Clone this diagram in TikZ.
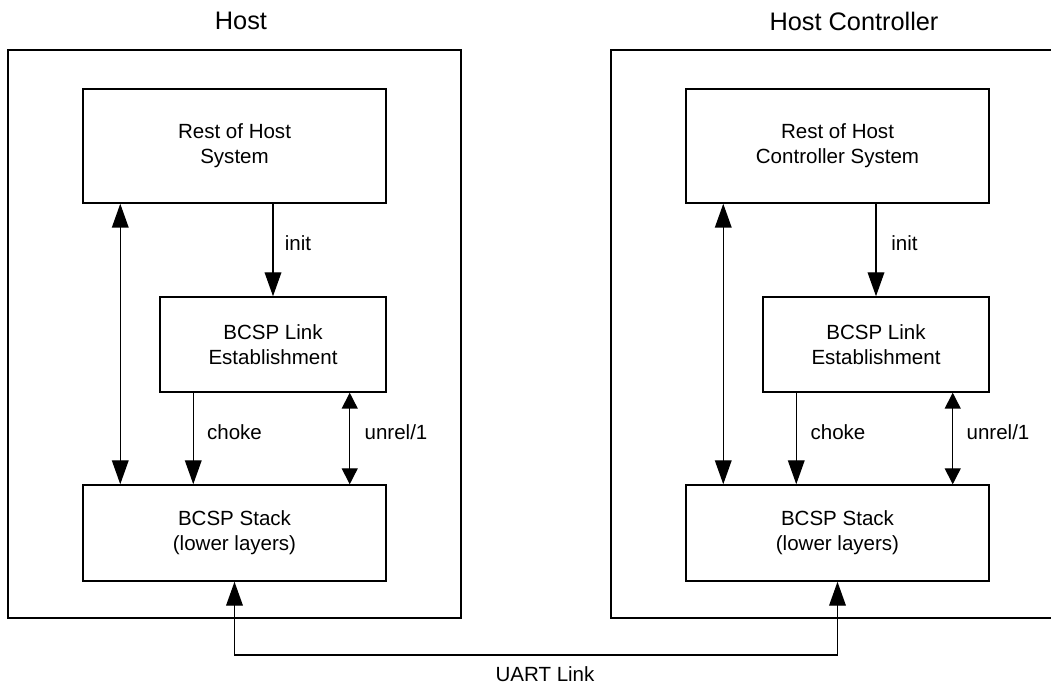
\documentclass[tikz,border=0pt]{standalone}
\usepackage{fontspec}
\setmainfont{Liberation Sans}
\usetikzlibrary{arrows.meta}
\begin{document}
\begin{tikzpicture}[x=0.75pt,y=-0.75pt,
  line width=1.1pt,
  box/.style={draw,rectangle,align=center,inner sep=0pt,
    font=\fontsize{15.4}{18.75}\selectfont},
  outer/.style={draw,rectangle,inner sep=0pt},
  wide/.style={minimum width=227.25pt},
  narrow/.style={minimum width=169.5pt},
  lbl/.style={font=\fontsize{15.4}{18.75}\selectfont,inner sep=0pt},
  ttl/.style={font=\fontsize{19}{22}\selectfont,inner sep=0pt},
  bigtip/.style={-{Triangle[length=18pt,width=12.5pt]}},
  dbltip/.style={{Triangle[length=18pt,width=12.5pt]}-{Triangle[length=18pt,width=12.5pt]}},
  smalldbl/.style={{Triangle[length=12pt,width=12pt]}-{Triangle[length=12pt,width=12pt]}}
]
\useasboundingbox (0,0) rectangle (1051,684);
\clip (0,0) rectangle (1051,684);

% titles
\node[ttl] (tL) at (241,21) {Host};
\node[ttl] (tR) at (854,21) {Host Controller};

% outer boxes
\node[outer,minimum width=339.75pt,minimum height=426pt] (outL) at (234.5,334) {};
\node[outer,minimum width=345pt,minimum height=426pt] (outR) at (841,334) {};

% left side
\node[box,wide,minimum height=85.5pt] (restL) at (234.5,146) {Rest of Host\\System};
\node[box,narrow,minimum height=71.25pt] (linkL) at (273,344.5) {BCSP Link\\Establishment};
\node[box,wide,minimum height=72pt] (stackL) at (234.5,533) {BCSP Stack\\(lower layers)};

% right side
\node[box,wide,minimum height=85.5pt] (restR) at (837.5,146) {Rest of Host\\Controller System};
\node[box,narrow,minimum height=71.25pt] (linkR) at (876,344.5) {BCSP Link\\Establishment};
\node[box,wide,minimum height=72pt] (stackR) at (837.5,533) {BCSP Stack\\(lower layers)};

% left connectors
\draw[dbltip] ([xshift=28.5pt]restL.south west) -- ([xshift=28.5pt]stackL.north west);
\draw[bigtip] (restL.south -| linkL.north) -- (linkL.north);
\draw[bigtip] ([xshift=25.5pt]linkL.south west) -- ([xshift=25.5pt]linkL.south west |- stackL.north);
\draw[smalldbl] ([xshift=-27.75pt]linkL.south east) -- ([xshift=-27.75pt]linkL.south east |- stackL.north);
\node[lbl] (initL) at (298,243) {init};
\node[lbl] (chokeL) at (234.5,432) {choke};
\node[lbl] (unrelL) at (396,432) {unrel/1};

% right connectors
\draw[dbltip] ([xshift=28.5pt]restR.south west) -- ([xshift=28.5pt]stackR.north west);
\draw[bigtip] (restR.south -| linkR.north) -- (linkR.north);
\draw[bigtip] ([xshift=25.5pt]linkR.south west) -- ([xshift=25.5pt]linkR.south west |- stackR.north);
\draw[smalldbl] ([xshift=-27.75pt]linkR.south east) -- ([xshift=-27.75pt]linkR.south east |- stackR.north);
\node[lbl] (initR) at (904.5,243) {init};
\node[lbl] (chokeR) at (838,432) {choke};
\node[lbl] (unrelR) at (998,432) {unrel/1};

% UART link
\coordinate (uart) at (537,655);
\draw[dbltip] (stackL.south) |- (uart) -| (stackR.south);
\node[lbl] (uartlbl) at (545,674) {UART Link};
\end{tikzpicture}
\end{document}
